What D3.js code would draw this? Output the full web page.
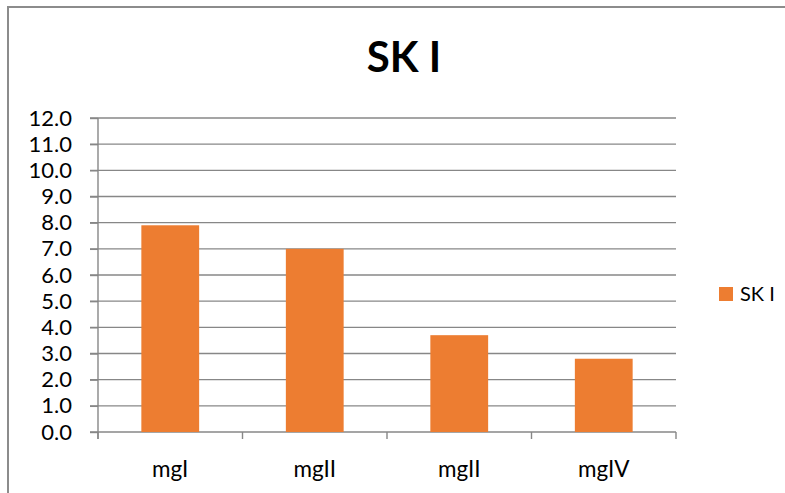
<!DOCTYPE html>
<html>
<head>
<meta charset="utf-8">
<script src="https://cdn.jsdelivr.net/npm/d3@7/dist/d3.min.js"></script>
<style>
  html, body { margin: 0; padding: 0; background: #fff; }
  svg { display: block; }
  text { font-family: Lato, "Open Sans", sans-serif; fill: #000; }
</style>
</head>
<body>
<svg id="chart" width="785" height="493"></svg>
<script>
// Chart data
const categories = ["mgI", "mgII", "mgII", "mgIV"];
const seriesName = "SK I";
const values = [7.9, 7.0, 3.7, 2.8];
const yTicks = [0, 1, 2, 3, 4, 5, 6, 7, 8, 9, 10, 11, 12];

const W = 785, H = 493;
const plot = { left: 98, right: 676, top: 118, bottom: 432 };
const barColor = "#ED7D31";
const gridColor = "#878787";

const svg = d3.select("#chart");

// Outer chart border
svg.append("rect")
  .attr("x", 8).attr("y", 7)
  .attr("width", W + 10).attr("height", H + 10)
  .attr("fill", "#fff")
  .attr("stroke", "#8c8c8c")
  .attr("stroke-width", 2);

// Title
svg.append("text")
  .attr("x", 404).attr("y", 72)
  .attr("text-anchor", "middle")
  .attr("font-size", 42)
  .attr("font-weight", "bold")
  .text(seriesName);

// Scales (index domain since category labels repeat)
const x = d3.scaleBand()
  .domain(d3.range(categories.length))
  .range([plot.left, plot.right])
  .paddingInner(0.6)
  .paddingOuter(0.3);

const y = d3.scaleLinear()
  .domain([0, 12])
  .range([plot.bottom, plot.top]);

// Horizontal gridlines
svg.append("g")
  .selectAll("line")
  .data(yTicks)
  .join("line")
  .attr("x1", plot.left - 8)
  .attr("x2", plot.right)
  .attr("y1", d => y(d))
  .attr("y2", d => y(d))
  .attr("stroke", gridColor)
  .attr("stroke-width", 1.4);

// Y axis
const yAxis = svg.append("g")
  .attr("transform", `translate(${plot.left},0)`)
  .call(d3.axisLeft(y).tickValues(yTicks).tickFormat(d3.format(".1f")).tickSize(8).tickPadding(18));
yAxis.select(".domain").remove();
yAxis.selectAll(".tick line").attr("stroke", gridColor).attr("stroke-width", 1.4);
yAxis.selectAll(".tick text")
  .attr("font-size", 22)
  .attr("fill", "#000")
  .attr("font-family", "Lato, sans-serif");

// Vertical axis line
svg.append("line")
  .attr("x1", plot.left).attr("x2", plot.left)
  .attr("y1", plot.top).attr("y2", plot.bottom + 7)
  .attr("stroke", gridColor).attr("stroke-width", 1.4);

// X axis: category boundary ticks
const step = x.step();
const boundaries = d3.range(categories.length + 1).map(i => plot.left + i * step);
svg.append("g")
  .selectAll("line")
  .data(boundaries)
  .join("line")
  .attr("x1", d => d).attr("x2", d => d)
  .attr("y1", plot.bottom).attr("y2", plot.bottom + 7)
  .attr("stroke", gridColor).attr("stroke-width", 1.4);

// Bars
svg.append("g")
  .selectAll("rect")
  .data(values)
  .join("rect")
  .attr("x", (d, i) => x(i))
  .attr("width", x.bandwidth())
  .attr("y", d => y(d))
  .attr("height", d => y(0) - y(d))
  .attr("fill", barColor);

// Category labels
svg.append("g")
  .selectAll("text")
  .data(categories)
  .join("text")
  .attr("x", (d, i) => x(i) + x.bandwidth() / 2)
  .attr("y", 477)
  .attr("text-anchor", "middle")
  .attr("font-size", 22.5)
  .text(d => d);

// Legend
const legend = svg.append("g");
legend.append("rect")
  .attr("x", 719).attr("y", 287)
  .attr("width", 14).attr("height", 14)
  .attr("fill", barColor);
legend.append("text")
  .attr("x", 740).attr("y", 301)
  .attr("font-size", 20)
  .text(seriesName);
</script>
</body>
</html>
